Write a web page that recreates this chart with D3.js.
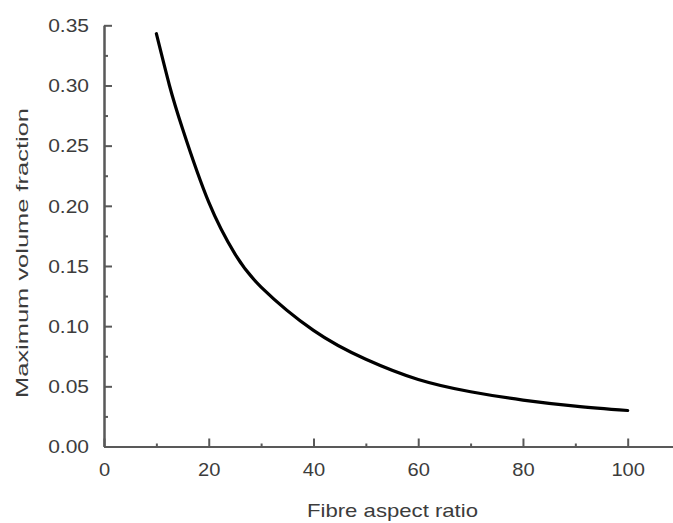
<!DOCTYPE html>
<html>
<head>
<meta charset="utf-8">
<script src="https://cdn.jsdelivr.net/npm/d3@7"></script>
<style>
  body { margin: 0; background: #fff; }
  svg { display: block; }
  text { font-family: "Liberation Sans", Arial, Helvetica, sans-serif; fill: #3c3c3c; }
</style>
</head>
<body>
<div id="canvas"></div>
<script>
// values
var aspectRatio = [10, 12.5, 15, 20, 25, 30, 40, 50, 60, 70, 80, 90, 100];
var maxVolFraction = [0.343, 0.300, 0.264, 0.203, 0.160, 0.1325, 0.0965, 0.0725, 0.0557, 0.0455, 0.0386, 0.0336, 0.0299];
var xMajorTicks = [0, 20, 40, 60, 80, 100];
var xMinorTicks = [10, 30, 50, 70, 90];
var yMajorTicks = [0, 0.05, 0.10, 0.15, 0.20, 0.25, 0.30, 0.35];
var yMinorTicks = [0.025, 0.075, 0.125, 0.175, 0.225, 0.275, 0.325];
var xTitle = "Fibre aspect ratio";
var yTitle = "Maximum volume fraction";

var width = 673, height = 523;
var x0 = 104, yBase = 446.5;         // axis origin in pixels
var pxPerX = 5.237;                  // pixels per aspect-ratio unit

var svg = d3.select("#canvas")
    .append("svg")
    .attr("width", width)
    .attr("height", height);

var x = d3.scaleLinear().domain([0, 110]).range([x0, x0 + 110 * pxPerX]);
var y = d3.scaleLinear().domain([0, 0.35]).range([yBase, 25.3]);

var axisColor = "#595959";

function styleAxis(g) {
    g.selectAll(".domain").attr("stroke", axisColor).attr("stroke-width", 2);
    g.selectAll(".tick line").attr("stroke", axisColor).attr("stroke-width", 2);
}

// minor ticks (no labels)
svg.append("g")
    .attr("transform", "translate(0," + yBase + ")")
    .call(d3.axisBottom(x).tickValues(xMinorTicks).tickSize(-3).tickSizeOuter(0).tickFormat(""))
    .call(styleAxis);
svg.append("g")
    .attr("transform", "translate(" + x0 + ",0)")
    .call(d3.axisLeft(y).tickValues(yMinorTicks).tickSize(-4).tickSizeOuter(0).tickFormat(""))
    .call(styleAxis);

// major ticks with labels
var gx = svg.append("g")
    .attr("transform", "translate(0," + yBase + ")")
    .call(d3.axisBottom(x).tickValues(xMajorTicks).tickSize(-8).tickSizeOuter(0).tickFormat(d3.format("d")))
    .call(styleAxis);
gx.selectAll(".tick text")
    .attr("y", 29.5)
    .attr("dy", 0)
    .attr("font-size", 17.5)
    .attr("fill", "#3c3c3c")
    .attr("transform", "scale(1.15,1)");

var gy = svg.append("g")
    .attr("transform", "translate(" + x0 + ",0)")
    .call(d3.axisLeft(y).tickValues(yMajorTicks).tickSize(-8).tickSizeOuter(0).tickFormat(d3.format(".2f")))
    .call(styleAxis);
gy.selectAll(".tick text")
    .attr("x", -15 / 1.2)
    .attr("dy", "0.36em")
    .attr("font-size", 17.5)
    .attr("fill", "#3c3c3c")
    .attr("transform", "scale(1.2,1)");

// the curve
var line = d3.line()
    .x(function(d, i) { return x(aspectRatio[i]); })
    .y(function(d) { return y(d); })
    .curve(d3.curveNatural);

svg.append("path")
    .datum(maxVolFraction)
    .attr("d", line)
    .attr("fill", "none")
    .attr("stroke", "#000")
    .attr("stroke-width", 3.2)
    .attr("stroke-linecap", "round");

// axis titles
svg.append("text")
    .attr("x", 392.5)
    .attr("y", 517)
    .attr("text-anchor", "middle")
    .attr("font-size", 19)
    .attr("textLength", 171)
    .attr("lengthAdjust", "spacingAndGlyphs")
    .text(xTitle);

svg.append("text")
    .attr("transform", "translate(28,253) rotate(-90)")
    .attr("text-anchor", "middle")
    .attr("font-size", 17)
    .attr("textLength", 290)
    .attr("lengthAdjust", "spacingAndGlyphs")
    .text(yTitle);
</script>
</body>
</html>
